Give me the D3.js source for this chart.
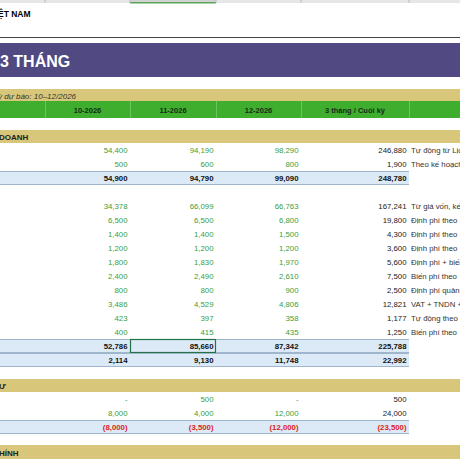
<!DOCTYPE html>
<html><head><meta charset="utf-8">
<script src="https://cdn.jsdelivr.net/npm/d3@7"></script>
<style>body{margin:0;background:#fff;overflow:hidden}svg{display:block;font-family:"Liberation Sans",Arial,sans-serif}</style>
</head><body>
<script>
// column headers and values
const months = ["10-2026", "11-2026", "12-2026", "3 tháng / Cuối kỳ"];
const revenue = [[54400, 94190, 98290, 246880], [500, 600, 800, 1900]];
const revenueTotal = [54900, 94790, 99090, 248780];
const costs = [
  [34378, 66099, 66763, 167241], [6500, 6500, 6800, 19800], [1400, 1400, 1500, 4300],
  [1200, 1200, 1200, 3600], [1800, 1830, 1970, 5600], [2400, 2490, 2610, 7500],
  [800, 800, 900, 2500], [3486, 4529, 4806, 12821], [423, 397, 358, 1177], [400, 415, 435, 1250]
];
const costTotal = [52786, 85660, 87342, 225788];
const profit = [2114, 9130, 11748, 22992];
const invest = [[0, 500, 0, 500], [8000, 4000, 12000, 24000]];
const investTotal = [-8000, -3500, -12000, -23500];
const revenueNotes = ["Tự động từ Lịch", "Theo kế hoạch"];
const costNotes = ["Từ giá vốn, kế", "Định phí theo", "Định phí theo", "Định phí theo", "Định phí + biến",
  "Biến phí theo", "Định phí quản", "VAT + TNDN +", "Tự động theo", "Biến phí theo"];

// row layout
const rows = [];
rows.push({kind: "gold", h: 13, label: "DOANH"});
revenue.forEach((v, i) => rows.push({kind: "data", h: 14, v, note: revenueNotes[i]}));
rows.push({kind: "total", h: 14, v: revenueTotal});
rows.push({kind: "blank", h: 14});
costs.forEach((v, i) => rows.push({kind: "data", h: 14, v, note: costNotes[i]}));
rows.push({kind: "total", h: 14, v: costTotal, sel: true});
rows.push({kind: "total", h: 14, v: profit});
rows.push({kind: "blank", h: 12});
rows.push({kind: "gold", h: 13, label: "Ư"});
invest.forEach(v => rows.push({kind: "data", h: 14, v}));
rows.push({kind: "total", h: 14, v: investTotal});
rows.push({kind: "blank", h: 11});
rows.push({kind: "gold", h: 14, label: "HÍNH"});
let acc = 130;
rows.forEach(r => { r.y = acc; acc += r.h; });

const W = 460, H = 460;
const edges = [0, 45, 130, 216, 301, 409, 460];
// value column i spans edges[i+1]..edges[i+2]
const colL = d3.scaleOrdinal().domain([0, 1, 2, 3]).range(edges.slice(1, 5));
const colR = d3.scaleOrdinal().domain([0, 1, 2, 3]).range(edges.slice(2, 6));
const fmt = d3.format(",");
const fmtV = v => v === 0 ? "-" : v < 0 ? "(" + fmt(-v) + ")" : fmt(v);

const svg = d3.select("body").append("svg").attr("width", W).attr("height", H);

// sheet column-header strip
svg.append("rect").attr("width", W).attr("height", 3).attr("fill", "#e6e6e6");
svg.append("rect").attr("x", 130).attr("width", 86).attr("height", 3).attr("fill", "#d2d2d2");
svg.append("rect").attr("x", 130).attr("y", 2).attr("width", 86).attr("height", 1.5).attr("fill", "#5aa55a");
svg.selectAll(".cs").data(edges.slice(1, 6)).join("line")
  .attr("x1", d => d).attr("x2", d => d).attr("y1", 0).attr("y2", 3).attr("stroke", "#bbb");

svg.append("text").attr("x", -2).attr("y", 17).attr("font-size", 8.5).attr("font-weight", 700).text("ỆT NAM");
svg.append("line").attr("x1", 0).attr("x2", W).attr("y1", 37.5).attr("y2", 37.5).attr("stroke", "#444").attr("stroke-width", 1);

svg.append("rect").attr("y", 43).attr("width", W).attr("height", 34).attr("fill", "#514a82");
svg.append("text").attr("x", 0).attr("y", 67).attr("font-size", 16).attr("font-weight", 700).attr("fill", "#fff").text("3 THÁNG");

svg.append("rect").attr("y", 89).attr("width", W).attr("height", 12).attr("fill", "#d8c77a");
svg.append("text").attr("x", -2).attr("y", 98.5).attr("font-size", 8).attr("font-style", "italic").attr("fill", "#333").text("ỳ dự báo: 10–12/2026");

svg.append("rect").attr("y", 101).attr("width", W).attr("height", 17).attr("fill", "#3fae2f");
svg.selectAll(".gs").data(edges.slice(1, 6)).join("line")
  .attr("x1", d => d + 0.5).attr("x2", d => d + 0.5).attr("y1", 101).attr("y2", 118).attr("stroke", "#6cc45e");
svg.selectAll(".mh").data(months).join("text")
  .attr("x", (d, i) => (colL(i) + colR(i)) / 2).attr("y", 113).attr("text-anchor", "middle")
  .attr("font-size", 7.5).attr("font-weight", 700).attr("fill", "#1a2a1a").text(d => d);

const g = svg.selectAll(".row").data(rows).join("g").attr("transform", d => `translate(0,${d.y})`);

g.filter(d => d.kind === "gold").each(function (d) {
  const s = d3.select(this);
  s.append("rect").attr("width", W).attr("height", d.h).attr("fill", "#d8c77a");
  s.append("text").attr("x", -1).attr("y", d.h - 3.5).attr("font-size", 8).attr("font-weight", 700).attr("fill", "#222").text(d.label);
});

g.filter(d => d.kind === "total").each(function (d) {
  const s = d3.select(this);
  s.append("rect").attr("width", 409).attr("height", d.h).attr("fill", "#dce9f6");
  s.append("line").attr("x2", 409).attr("y1", 0.5).attr("y2", 0.5).attr("stroke", "#9fb6cc");
  s.append("line").attr("x2", 409).attr("y1", d.h - 0.5).attr("y2", d.h - 0.5).attr("stroke", "#9fb6cc");
});

g.filter(d => d.kind === "data" || d.kind === "total").each(function (d) {
  const s = d3.select(this);
  s.selectAll("text.v").data(d.v).join("text").attr("class", "v")
    .attr("x", (v, i) => colR(i) - 2.5).attr("y", 10).attr("text-anchor", "end")
    .attr("font-size", 7.8)
    .attr("font-weight", d.kind === "total" ? 700 : 400)
    .attr("fill", (v, i) => v < 0 ? "#e01b1b" : d.kind === "total" ? "#111" : i === 3 ? "#222" : "#3a9e3a")
    .text(fmtV);
  if (d.note) s.append("text").attr("x", 411).attr("y", 10).attr("font-size", 7.8).attr("fill", "#333").text(d.note);
  if (d.sel) s.append("rect").attr("x", 130.5).attr("y", 0.5).attr("width", 85).attr("height", d.h - 1)
    .attr("fill", "none").attr("stroke", "#217346").attr("stroke-width", 1.2);
});
</script>
</body></html>
